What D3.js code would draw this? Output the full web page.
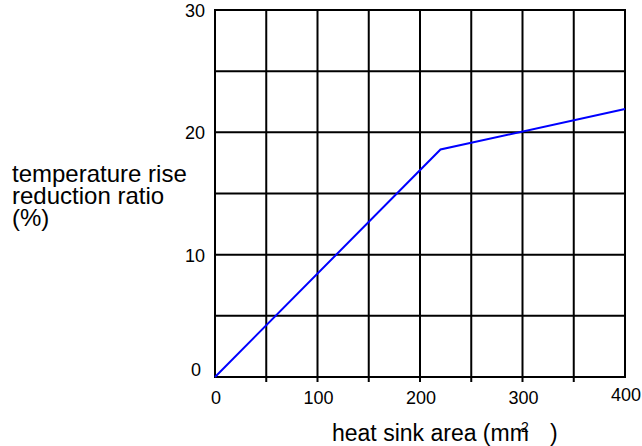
<!DOCTYPE html>
<html lang="en">
<head>
<meta charset="UTF-8" />
<style>
  body { margin: 0; background: #fff; }
  svg text { font-family: "Liberation Sans", Arial, sans-serif; fill: #000; }
</style>
</head>
<body>
<svg id="chart" width="642" height="446"></svg>
<script src="https://d3js.org/d3.v7.min.js"></script>
<script>
  // values
  var areaValues = [0, 220, 400];
  var reductionValues = [0, 18.6, 21.9];
  var xTickLabels = [0, 100, 200, 300, 400];
  var yTickLabels = [0, 10, 20, 30];
  var xGrid = [0, 50, 100, 150, 200, 250, 300, 350, 400];
  var yGrid = [0, 5, 10, 15, 20, 25, 30];

  var svg = d3.select("#chart");
  var plotLeft = 215, plotRight = 625, plotTop = 10, plotBottom = 377;

  var x = d3.scaleLinear().domain([0, 400]).range([plotLeft, plotRight]);
  var y = d3.scaleLinear().domain([0, 30]).range([plotBottom, plotTop]);

  // vertical grid lines, inner ones poke below the frame as ticks
  svg.append("g")
    .selectAll("line")
    .data(xGrid)
    .enter().append("line")
      .attr("x1", d => x(d))
      .attr("x2", d => x(d))
      .attr("y1", y(30) - 1)
      .attr("y2", d => (d == 0 || d == 400) ? y(0) + 1 : y(0) + 5)
      .attr("stroke", "#000")
      .attr("stroke-width", 2);

  svg.append("g")
    .selectAll("line")
    .data(yGrid)
    .enter().append("line")
      .attr("x1", x(0) - 1)
      .attr("x2", x(400) + 1)
      .attr("y1", d => y(d))
      .attr("y2", d => y(d))
      .attr("stroke", "#000")
      .attr("stroke-width", 2);

  // tick labels
  svg.append("g")
    .selectAll("text")
    .data(xTickLabels)
    .enter().append("text")
      .attr("x", d => x(d) + 1)
      .attr("y", d => d == 400 ? 401 : 404)
      .attr("text-anchor", "middle")
      .attr("font-size", "18px")
      .text(d => d);

  svg.append("g")
    .selectAll("text")
    .data(yTickLabels)
    .enter().append("text")
      .attr("x", d => d == 0 ? 201 : 205)
      .attr("y", d => d == 0 ? y(d) - 1 : y(d) + 7)
      .attr("text-anchor", "end")
      .attr("font-size", "18px")
      .text(d => d);

  // the curve
  var pts = areaValues.map((a, i) => [a, reductionValues[i]]);
  svg.append("path")
    .datum(pts)
    .attr("fill", "none")
    .attr("stroke", "#0000ff")
    .attr("stroke-width", 2)
    .attr("d", d3.line().x(d => x(d[0])).y(d => y(d[1])));

  // axis titles
  var yt = svg.append("text").attr("font-size", "24px");
  yt.append("tspan").attr("x", 12).attr("y", 182).text("temperature rise");
  yt.append("tspan").attr("x", 12).attr("y", 204).text("reduction ratio");
  yt.append("tspan").attr("x", 12).attr("y", 226).text("(%)");

  svg.append("text")
    .attr("x", 332).attr("y", 441)
    .attr("font-size", "23px")
    .text("heat sink area (mm");
  svg.append("text")
    .attr("x", 521).attr("y", 432)
    .attr("font-size", "14px")
    .text("2");
  svg.append("text")
    .attr("x", 550).attr("y", 441)
    .attr("font-size", "23px")
    .text(")");
</script>
</body>
</html>
